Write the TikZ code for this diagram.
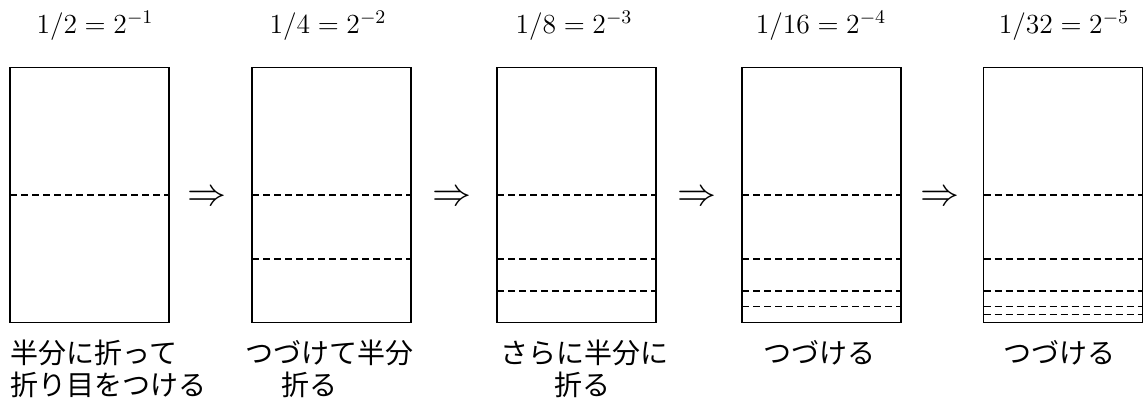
\RequirePackage{fix-cm}
\documentclass[tikz,border=0pt]{standalone}
\usepackage{fontspec}
\newfontfamily\jfont{Noto Sans CJK JP}
\usetikzlibrary{calc}
\tikzset{
  paper/.style={draw, line width=0.7pt, minimum width=79.5pt, minimum height=127.5pt,
    inner sep=0pt, outer sep=0pt, anchor=north west},
  fold/.style={line width=0.9pt, dash pattern=on 3.5pt off 2pt},
  title/.style={anchor=base, inner sep=0pt, font=\fontsize{13.8}{16}\selectfont},
  imply/.style={anchor=base, inner sep=0pt, font=\fontsize{19.5}{22}\selectfont},
  jlabel/.style={anchor=base west, inner sep=0pt, font=\fontsize{14}{15}\selectfont\jfont},
  jlabelc/.style={anchor=base, inner sep=0pt, font=\fontsize{14}{15}\selectfont\jfont},
}
\begin{document}
\begin{tikzpicture}[x=0.5pt,y=-0.5pt]
\useasboundingbox (0,0) rectangle (1144,405);
% sheets
\node[paper] (b1) at (10,67.5) {};
\node[paper] (b2) at (252,67.5) {};
\node[paper] (b3) at (497,67.5) {};
\node[paper] (b4) at (742,67.5) {};
\node[paper] (b5) at (983.5,67.5) {};
% fold lines
\foreach \i in {1,...,5}{
  \foreach \k in {1,...,\i}{
    \pgfmathsetmacro\f{1/(2^\k)}
    \draw[fold] ($(b\i.south west)!\f!(b\i.north west)$) -- ($(b\i.south east)!\f!(b\i.north east)$);
  }
}
% titles
\node[title] (t1) at (95,34) {$1/2=2^{-1}$};
\node[title] (t2) at (328,34) {$1/4=2^{-2}$};
\node[title] (t3) at (574,34) {$1/8=2^{-3}$};
\node[title] (t4) at (821,34) {$1/16=2^{-4}$};
\node[title] (t5) at (1064,34) {$1/32=2^{-5}$};
% arrows
\node[imply] (a1) at (207,206) {$\Rightarrow$};
\node[imply] (a2) at (452,206) {$\Rightarrow$};
\node[imply] (a3) at (697,206) {$\Rightarrow$};
\node[imply] (a4) at (940,206) {$\Rightarrow$};
% captions
\node[jlabel] (l1a) at (10,364) {半分に折って};
\node[jlabel] (l1b) at (10,395) {折り目をつける};
\node[jlabel] (l2a) at (245,364) {つづけて半分};
\node[jlabel] (l2b) at (281,395) {折る};
\node[jlabel] (l3a) at (500,364) {さらに半分に};
\node[jlabel] (l3b) at (554,395) {折る};
\node[jlabelc] (l4) at (819,364) {つづける};
\node[jlabelc] (l5) at (1059,364) {つづける};
\end{tikzpicture}
\end{document}
